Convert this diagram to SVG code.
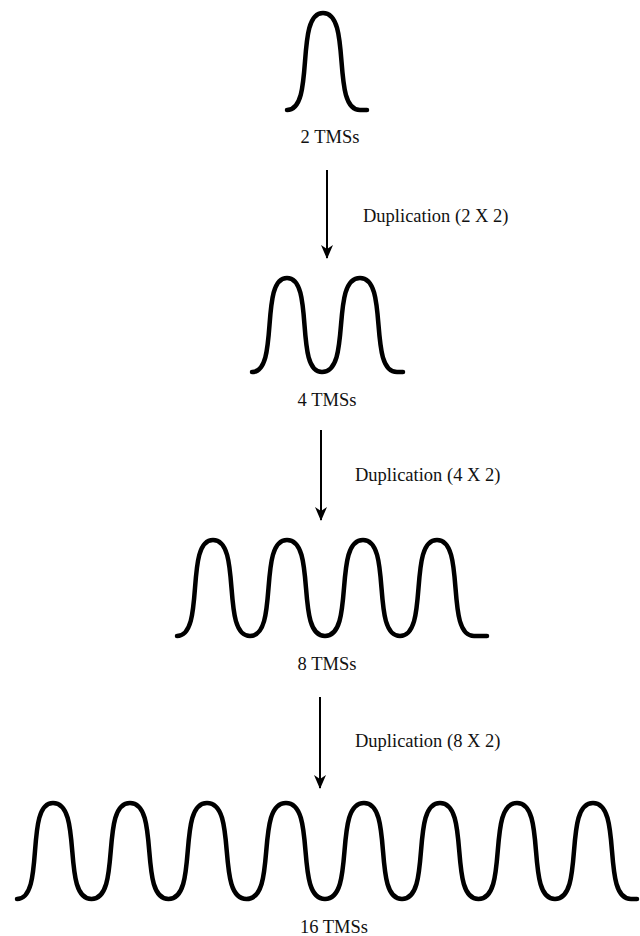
<svg xmlns="http://www.w3.org/2000/svg" width="640" height="936" viewBox="0 0 640 936">
<style>
.wave{fill:none;stroke:#000;stroke-width:4.5;stroke-linecap:round;stroke-linejoin:round}
.conn{fill:none;stroke:#000;stroke-width:2}
.lbl{font-family:"Liberation Serif","Times New Roman",serif;font-size:18.5px;fill:#111}
.mid{text-anchor:middle}
</style>
<defs>
<marker id="ah" viewBox="0 0 14 14" refX="13" refY="7" markerWidth="14" markerHeight="14" markerUnits="userSpaceOnUse" orient="auto">
<path d="M0,1 L14,7 L0,13 L4,7 Z" fill="#000"/>
</marker>
</defs>
<rect width="640" height="936" fill="#fff"/>
<g id="node-2tms">
<path class="wave" d="M287,110 C315.8,110 294.2,13 323,13 C352.6,13 330.4,110 360,110 L367,110"/>
<text class="lbl mid" x="330" y="143">2 TMSs</text>
</g>
<g id="node-4tms">
<path class="wave" d="M252,372 C280,372 259,278 287,278 C315,278 294,372 322,372 C352.4,372 329.6,278 360,278 C389.6,278 367.4,372 397,372 L403,372"/>
<text class="lbl mid" x="327" y="406">4 TMSs</text>
</g>
<g id="node-8tms">
<path class="wave" d="M177,636 C205.8,636 184.2,540 213,540 C242.6,540 220.4,636 250,636 C279.6,636 257.4,540 287,540 C317.4,540 294.6,636 325,636 C355.4,636 332.6,540 363,540 C392.6,540 370.4,636 400,636 C429.6,636 407.4,540 437,540 C466.6,540 444.4,636 474,636 L487,636"/>
<text class="lbl mid" x="327" y="670">8 TMSs</text>
</g>
<g id="node-16tms">
<path class="wave" d="M17,899 C45.8,899 24.2,803 53,803 C83.8,803 60.7,899 91.5,899 C122.3,899 99.2,803 130,803 C160.8,803 137.7,899 168.5,899 C199.3,899 176.2,803 207,803 C238.6,803 214.9,899 246.5,899 C278.1,899 254.4,803 286,803 C317.2,803 293.8,899 325,899 C356.2,899 332.8,803 364,803 C394.4,803 371.6,899 402,899 C432.4,899 409.6,803 440,803 C470.8,803 447.7,899 478.5,899 C509.3,899 486.2,803 517,803 C547.4,803 524.6,899 555,899 C585.4,899 562.6,803 593,803 C623.4,803 600.6,899 631,899 L637,899"/>
<text class="lbl mid" x="334" y="933">16 TMSs</text>
</g>
<g id="connectors">
<line class="conn" x1="327" y1="170" x2="327" y2="258" marker-end="url(#ah)"/>
<text class="lbl" x="363" y="222">Duplication (2 X 2)</text>
<line class="conn" x1="321" y1="430" x2="321" y2="520" marker-end="url(#ah)"/>
<text class="lbl" x="355" y="481">Duplication (4 X 2)</text>
<line class="conn" x1="320" y1="697" x2="320" y2="788" marker-end="url(#ah)"/>
<text class="lbl" x="355" y="747">Duplication (8 X 2)</text>
</g>
</svg>
